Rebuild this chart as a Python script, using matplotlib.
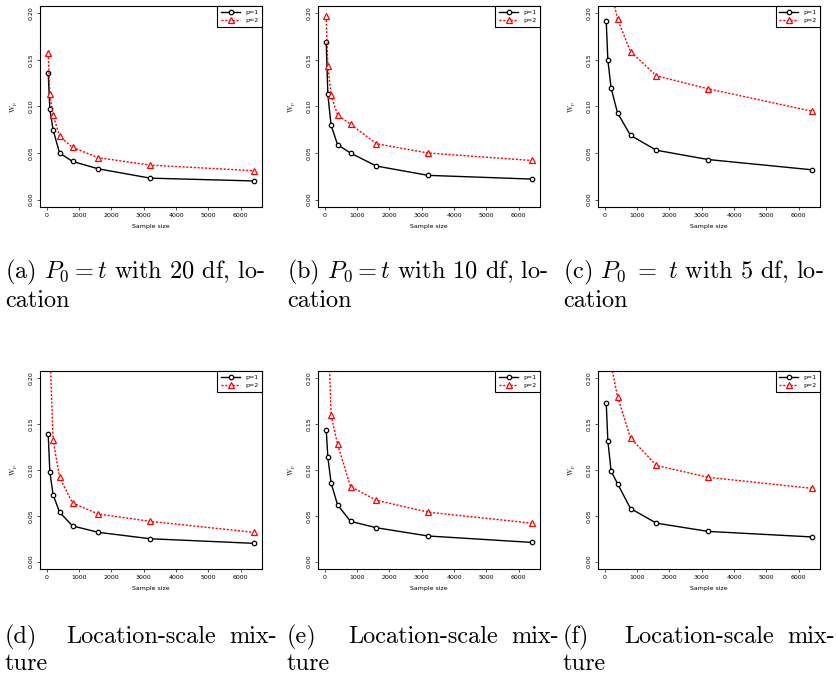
import matplotlib
matplotlib.use("Agg")
import matplotlib.pyplot as plt

plt.rcParams['mathtext.fontset'] = 'cm'
plt.rcParams['font.family'] = ['DejaVu Sans']

sample_size = [50, 100, 200, 400, 800, 1600, 3200, 6400]

# W_p values (p=1 black, p=2 red); values above 0.2 are clipped
a_p1 = [0.136, 0.097, 0.075, 0.050, 0.041, 0.033, 0.023, 0.020]
a_p2 = [0.157, 0.113, 0.091, 0.068, 0.056, 0.045, 0.037, 0.031]
b_p1 = [0.169, 0.113, 0.080, 0.059, 0.050, 0.036, 0.026, 0.022]
b_p2 = [0.197, 0.144, 0.112, 0.091, 0.081, 0.060, 0.050, 0.042]
c_p1 = [0.192, 0.150, 0.120, 0.093, 0.069, 0.053, 0.043, 0.032]
c_p2 = [0.380, 0.290, 0.225, 0.194, 0.159, 0.133, 0.119, 0.095]
d_p1 = [0.139, 0.098, 0.073, 0.054, 0.039, 0.032, 0.025, 0.020]
d_p2 = [0.330, 0.232, 0.133, 0.092, 0.064, 0.052, 0.044, 0.032]
e_p1 = [0.144, 0.114, 0.086, 0.062, 0.044, 0.037, 0.028, 0.021]
e_p2 = [0.360, 0.267, 0.160, 0.128, 0.082, 0.067, 0.054, 0.042]
f_p1 = [0.173, 0.132, 0.099, 0.085, 0.058, 0.042, 0.033, 0.027]
f_p2 = [0.400, 0.290, 0.215, 0.180, 0.135, 0.105, 0.092, 0.080]

panels = [
    (a_p1, a_p2, [r"(a) $P_0 = t$ with 20 df, lo-"], "cation"),
    (b_p1, b_p2, [r"(b) $P_0 = t$ with 10 df, lo-"], "cation"),
    (c_p1, c_p2, [r"(c) $P_0\ =\ t$ with 5 df, lo-"], "cation"),
    (d_p1, d_p2, ["(d)", "Location-scale", "mix-"], "ture"),
    (e_p1, e_p2, ["(e)", "Location-scale", "mix-"], "ture"),
    (f_p1, f_p2, ["(f)", "Location-scale", "mix-"], "ture"),
]

fig = plt.figure(figsize=(8.37, 6.76), dpi=100)
W, H = 837, 676
lefts = [40, 318, 598]
rows = [(6, 207), (371, 569)]
cap_x = [5, 287, 563]
cap_w = 272
cap_font = dict(family='cmr10', fontsize=17.5)

for i, (p1, p2, cap1, cap2) in enumerate(panels):
    r, c = divmod(i, 3)
    top, bot = rows[r]
    ax = fig.add_axes([lefts[c] / W, 1 - bot / H, 222 / W, (bot - top) / H])
    ax.plot(sample_size, p1, color='black', lw=1.0, marker='o', ms=3.2,
            mfc='white', mec='black', mew=0.9, label='p=1')
    ax.plot(sample_size, p2, color='red', lw=1.0, ls=(0, (1.5, 1.2)), marker='^',
            ms=3.8, mfc='white', mec='red', mew=0.9, label='p=2')
    ax.set_xlim(50 - 0.04 * 6350, 6400 + 0.04 * 6350)
    ax.set_ylim(-0.008, 0.208)
    ax.set_xticks([0, 1000, 2000, 3000, 4000, 5000, 6000])
    ax.set_yticks([0.0, 0.05, 0.10, 0.15, 0.20])
    ax.set_yticklabels(["0.00", "0.05", "0.10", "0.15", "0.20"], rotation=90, va='center')
    ax.tick_params(labelsize=4.5, length=2.5, width=0.6, pad=2, color='#333333')
    for s in ax.spines.values():
        s.set_linewidth(0.8)
    ax.set_xlabel("Sample size", fontsize=4.5, labelpad=4)
    ax.set_ylabel(r"$\mathrm{W_p}$", fontsize=5, labelpad=6)
    leg = ax.legend(loc='upper right', fontsize=4.5, borderaxespad=0, fancybox=False,
                    framealpha=1, edgecolor='black', handlelength=3.0,
                    borderpad=0.6, labelspacing=0.4, handletextpad=0.8)
    leg.get_frame().set_linewidth(0.8)

    # caption, justified across the column width
    y1 = 1 - (272 if r == 0 else 637) / H
    y2 = 1 - (301 if r == 0 else 664) / H
    x0 = cap_x[c] / W
    x1 = (cap_x[c] + cap_w) / W
    if len(cap1) == 1:
        fig.text(x0, y1, cap1[0], ha='left', va='center', **cap_font)
    else:
        fig.text(x0, y1, cap1[0], ha='left', va='center', **cap_font)
        fig.text((x0 + x1) / 2, y1, cap1[1], ha='center', va='center', **cap_font)
        fig.text(x1, y1, cap1[2], ha='right', va='center', **cap_font)
    fig.text(x0, y2, cap2, ha='left', va='center', **cap_font)

fig.savefig("out.png", dpi=100)
